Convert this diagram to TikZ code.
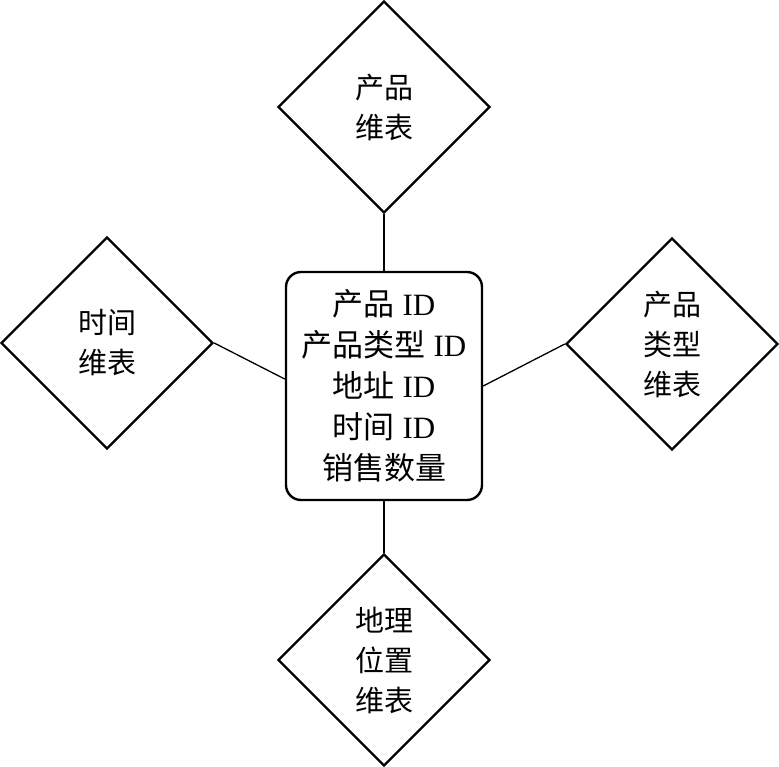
\documentclass[tikz,border=0pt]{standalone}
\usepackage{fontspec}
\setmainfont{Liberation Serif}
\newfontfamily\cjk{Noto Sans CJK SC}
\usetikzlibrary{shapes.geometric}
\begin{document}
\begin{tikzpicture}[x=1pt,y=-1pt,
 dia/.style={diamond, draw, line width=2.4pt, minimum width=212pt, minimum height=212pt, inner sep=0pt, align=center, font=\fontsize{29}{40}\selectfont\cjk},
 fact/.style={draw, line width=2.4pt, rounded corners=15pt, minimum width=196pt, minimum height=228pt, inner sep=0pt, align=center, font=\fontsize{31}{41}\selectfont},
 link/.style={line width=1.3pt}]
\useasboundingbox (0,0) rectangle (779,767);
\node[fact] (f) at (384,386) {{\cjk 产品} ID\\{\cjk 产品类型} ID\\{\cjk 地址} ID\\{\cjk 时间} ID\\{\cjk 销售数量}};
\node[dia] (p) at (384,107) {产品\\维表};
\node[dia] (t) at (107,343) {时间\\维表};
\node[dia] (c) at (672,344) {产品\\类型\\维表};
\node[dia] (g) at (384,660) {地理\\位置\\维表};
\draw[link] (p.south) -- (f.north);
\draw[link] (f.south) -- (g.north);
\draw[link] (t.east) -- (f.176.5);
\draw[link] (f.east) -- (c.west);
\end{tikzpicture}
\end{document}
